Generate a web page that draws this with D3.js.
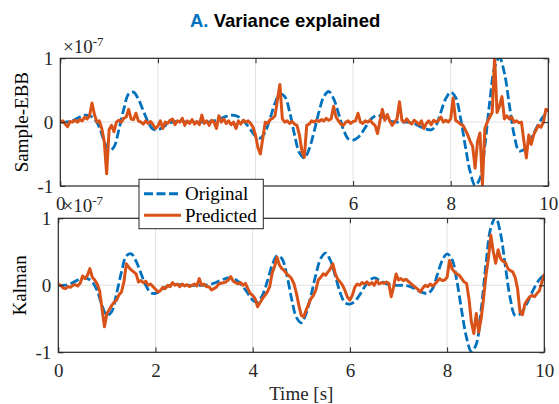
<!DOCTYPE html>
<html><head><meta charset="utf-8">
<script src="https://cdn.jsdelivr.net/npm/d3@7"></script>
<style>html,body{margin:0;padding:0;background:#fff;} svg{display:block;}</style>
</head><body>
<svg id="chart" width="559" height="404"></svg>
<script>
// Tick values and labels
const timeTicks = [0, 2, 4, 6, 8, 10];
const valueTicks = [-1, 0, 1];
const valueTickLabels = ["-1", "0", "1"];
const exponentLabel = "-7";

// Text
const titlePrefix = "A.";
const titleText = "Variance explained";
const xLabel = "Time [s]";
const panelNames = ["Sample-EBB", "Kalman"];
const seriesNames = ["Original", "Predicted"];

// Original signal (×1e-7), sampled every 0.1 s from 0 to 10 s
const originalStep = 0.1;
const original = [
  0, 0, 0.01, 0.04, 0.08, 0.11, 0.1, 0.05, -0.08, -0.3,
  -0.45, -0.39, -0.12, 0.2, 0.44, 0.47, 0.36, 0.18, 0.0, -0.11,
  -0.12, -0.08, -0.03, 0, 0.01, 0.01, 0, 0, 0, 0,
  0, 0.01, 0.03, 0.06, 0.09, 0.11, 0.1, 0.06, -0.02, -0.12,
  -0.22, -0.25, -0.15, 0.06, 0.3, 0.44, 0.4, 0.16, -0.2, -0.48,
  -0.56, -0.42, -0.15, 0.16, 0.4, 0.48, 0.37, 0.14, -0.11, -0.26,
  -0.28, -0.24, -0.145, -0.025, 0.07, 0.11, 0.08, 0.04, 0.01, 0,
  0, 0, -0.01, -0.04, -0.08, -0.11, -0.12, -0.05, 0.16, 0.37,
  0.47, 0.39, 0.07, -0.38, -0.78, -0.99, -0.88, -0.37, 0.32, 0.86,
  1.01, 0.77, 0.28, -0.2, -0.45, -0.43, -0.33, -0.18, -0.03, 0.09,
  0.16
];

// Predicted signals (×1e-7), sampled every 0.05 s from 0 to 10 s
const predictedStep = 0.05;
const predictedSampleEBB = [
  0.0, 0.02, -0.03, -0.07, 0.01, 0.0, 0.03, 0.0, 0.04, 0.02, 0.08, 0.05, 0.1, 0.3, 0.12, 0.0, 0.02, -0.1, -0.3, -0.81,
  -0.12, -0.05, -0.15, 0.0, 0.03, 0.0, 0.06, 0.08, 0.2, 0.05, 0.04, 0.14, 0.02, 0.0, -0.03, 0.02, -0.02, 0.01, -0.04, -0.1,
  -0.06, 0.02, -0.1, 0.0, -0.02, 0.03, 0.05, -0.04, 0.02, 0.0, 0.06, -0.05, 0.02, -0.02, 0.04, -0.03, 0.01, -0.04, 0.11, -0.02,
  0.02, -0.05, 0.03, 0.0, -0.1, 0.1, 0.0, 0.05, -0.02, 0.02, -0.04, 0.0, -0.1, 0.02, -0.03, 0.03, 0.0, 0.02, -0.02, -0.08,
  -0.2, -0.4, -0.5, -0.25, 0.0, -0.02, 0.04, 0.06, 0.1, 0.35, 0.59, 0.05, 0.0, 0.02, -0.02, 0.01, -0.03, -0.05, -0.2, -0.45,
  -0.55, -0.05, -0.03, 0.02, 0.0, 0.03, 0.01, 0.04, 0.02, 0.06, 0.03, 0.05, 0.25, 0.08, 0.02, -0.03, -0.05, 0.0, 0.02, -0.02,
  0.01, 0.02, 0.14, 0.0, -0.02, 0.02, 0.0, 0.03, -0.02, -0.05, -0.18, 0.02, 0.2, 0.03, 0.12, 0.02, -0.05, 0.0, 0.05, 0.32,
  0.03, 0.0, 0.05, 0.0, -0.03, 0.03, 0.0, -0.04, 0.02, -0.1, -0.02, 0.02, -0.04, 0.03, 0.0, 0.03, 0.08, 0.0, 0.03, 0.0,
  0.05, 0.38, 0.03, 0.0, -0.03, -0.05, -0.12, -0.2, -0.3, -0.38, -0.72, -0.3, -0.17, -0.98, -0.1, 0.0, 0.08, 0.15, 1.02, 0.15,
  0.25, 0.4, 0.05, 0.1, 0.05, 0.08, 0.0, 0.02, -0.01, 0.0, -0.3, -0.56, -0.2, -0.35, -0.2, -0.12, -0.05, -0.08, 0.0, 0.2,
  0.18
];
const predictedKalman = [
  0.02, 0.0, -0.04, -0.05, -0.02, -0.03, 0.0, 0.01, -0.01, 0.03, 0.14, 0.1, 0.15, 0.25, 0.12, 0.08, 0.02, -0.08, -0.35, -0.62,
  -0.42, -0.36, -0.3, -0.25, -0.22, -0.14, -0.1, 0.05, 0.32, 0.27, 0.23, 0.2, 0.17, 0.05, 0.07, 0.04, 0.06, 0.0, 0.02, -0.02,
  -0.06, -0.1, -0.08, -0.03, -0.05, 0.0, -0.02, 0.04, 0.0, 0.02, -0.02, 0.02, -0.01, 0.01, -0.02, 0.0, 0.02, -0.01, 0.1, 0.0,
  0.02, -0.02, -0.02, -0.07, -0.05, -0.03, 0.02, 0.03, 0.04, 0.05, 0.08, 0.13, 0.06, 0.04, 0.02, 0.04, 0.0, 0.03, -0.05, -0.12,
  -0.15, -0.2, -0.32, -0.26, -0.2, -0.15, -0.1, -0.02, 0.18, 0.28, 0.42, 0.3, 0.25, 0.22, 0.17, 0.14, 0.1, 0.02, -0.12, -0.3,
  -0.45, -0.47, -0.37, -0.28, -0.2, -0.15, -0.07, 0.08, 0.12, 0.17, 0.15, 0.2, 0.25, 0.32, 0.17, 0.09, 0.05, 0.0, -0.08, -0.18,
  -0.22, -0.15, -0.03, 0.02, 0.0, 0.04, 0.02, 0.05, 0.01, 0.04, 0.0, 0.07, 0.02, 0.04, 0.03, 0.05, 0.03, -0.17, -0.02, 0.17,
  0.08, 0.1, 0.07, 0.09, 0.06, 0.03, 0.0, -0.03, -0.06, -0.1, -0.04, 0.0, -0.02, 0.02, -0.01, 0.02, 0.06, 0.1, 0.07, 0.08,
  0.12, 0.37, 0.25, 0.2, 0.17, 0.15, 0.1, 0.05, 0.03, -0.2, -0.55, -0.72, -0.42, -0.7, -0.5, -0.2, 0.15, 0.4, 0.75, 0.5,
  0.33, 0.53, 0.4, 0.36, 0.34, 0.25, 0.22, 0.2, 0.12, -0.05, -0.4, -0.44, -0.28, -0.22, -0.17, -0.15, -0.17, -0.12, -0.08, 0.05,
  0.17
];

const SERIF = "'Liberation Serif','Times New Roman',serif";
const SANS = "'Liberation Sans',Arial,sans-serif";
const AXIS_COLOR = "#262626";
const GRID_COLOR = "#dfdfdf";
const BLUE = "#0072BD";
const ORANGE = "#D95319";
const DASH = "9,3.5";

const svg = d3.select("#chart");

const toPoints = (values, step) => values.map((v, i) => [i * step, v]);

const panels = [
  { name: panelNames[0], predicted: predictedSampleEBB,
    box: { left: 60.3, right: 548.3, top: 58.3, bottom: 186 }, expY: 53.3, expX: 63 },
  { name: panelNames[1], predicted: predictedKalman,
    box: { left: 58.3, right: 544.3, top: 218.3, bottom: 352.3 }, expY: 212, expX: 62.5 }
];

panels.forEach((p, idx) => {
  const b = p.box;
  const x = d3.scaleLinear().domain([0, 10]).range([b.left, b.right]);
  const y = d3.scaleLinear().domain([-1, 1]).range([b.bottom, b.top]);
  const g = svg.append("g");

  // grid
  g.append("g").selectAll("line.vg").data(timeTicks.filter(t => t > 0 && t < 10)).join("line")
    .attr("x1", d => x(d)).attr("x2", d => x(d)).attr("y1", b.top).attr("y2", b.bottom)
    .attr("stroke", GRID_COLOR).attr("stroke-width", 0.9);
  g.append("g").selectAll("line.hg").data(valueTicks.filter(v => v > -1 && v < 1)).join("line")
    .attr("y1", d => y(d)).attr("y2", d => y(d)).attr("x1", b.left).attr("x2", b.right)
    .attr("stroke", GRID_COLOR).attr("stroke-width", 0.9);

  // clip
  const clipId = "clip" + idx;
  svg.append("defs").append("clipPath").attr("id", clipId)
    .append("rect").attr("x", b.left).attr("y", b.top)
    .attr("width", b.right - b.left).attr("height", b.bottom - b.top);

  const smooth = d3.line().x(d => x(d[0])).y(d => y(d[1])).curve(d3.curveCatmullRom.alpha(0.5));
  const raw = d3.line().x(d => x(d[0])).y(d => y(d[1]));

  const lines = g.append("g").attr("clip-path", `url(#${clipId})`);
  lines.append("path").datum(toPoints(original, originalStep))
    .attr("d", smooth).attr("fill", "none").attr("stroke", BLUE)
    .attr("stroke-width", 2.8).attr("stroke-dasharray", DASH);
  lines.append("path").datum(toPoints(p.predicted, predictedStep))
    .attr("d", raw).attr("fill", "none").attr("stroke", ORANGE)
    .attr("stroke-width", 3).attr("stroke-linejoin", "round");

  // axes (ticks pointing inward)
  const styleAxis = sel => {
    sel.select(".domain").remove();
    sel.selectAll(".tick line").attr("stroke", AXIS_COLOR).attr("stroke-width", 1);
    sel.selectAll(".tick text").attr("fill", AXIS_COLOR)
      .style("font-family", SERIF).style("font-size", "19px");
  };
  g.append("g").attr("transform", `translate(0,${b.bottom})`)
    .call(d3.axisBottom(x).tickValues(timeTicks).tickSizeInner(-5).tickSizeOuter(0).tickPadding(11))
    .call(styleAxis);
  g.append("g").attr("transform", `translate(0,${b.top})`)
    .call(d3.axisTop(x).tickValues(timeTicks).tickSizeInner(-5).tickSizeOuter(0).tickFormat(""))
    .call(styleAxis);
  g.append("g").attr("transform", `translate(${b.left},0)`)
    .call(d3.axisLeft(y).tickValues(valueTicks).tickSizeInner(-5).tickSizeOuter(0).tickPadding(7)
      .tickFormat((d, i) => valueTickLabels[i]))
    .call(styleAxis);
  g.append("g").attr("transform", `translate(${b.right},0)`)
    .call(d3.axisRight(y).tickValues(valueTicks).tickSizeInner(-5).tickSizeOuter(0).tickFormat(""))
    .call(styleAxis);

  g.append("rect").attr("x", b.left).attr("y", b.top)
    .attr("width", b.right - b.left).attr("height", b.bottom - b.top)
    .attr("fill", "none").attr("stroke", AXIS_COLOR).attr("stroke-width", 1.2);

  // y label
  g.append("text")
    .attr("transform", `translate(${b.left - 32},${(b.top + b.bottom) / 2}) rotate(-90)`)
    .attr("text-anchor", "middle")
    .style("font-family", SERIF).style("font-size", "19px").attr("fill", "#000")
    .text(p.name);

  // exponent
  const ex = g.append("text").attr("x", p.expX).attr("y", p.expY)
    .style("font-family", SERIF).style("font-size", "19px").attr("fill", AXIS_COLOR);
  ex.append("tspan").text("\u00d710");
  ex.append("tspan").attr("dy", -7).style("font-size", "13px").text(exponentLabel);

  if (idx === 1) {
    g.append("text").attr("x", (b.left + b.right) / 2).attr("y", 400)
      .attr("text-anchor", "middle")
      .style("font-family", SERIF).style("font-size", "19px").attr("fill", AXIS_COLOR)
      .text(xLabel);
  }
});

// title
const title = svg.append("text").attr("x", 190).attr("y", 26.5)
  .style("font-family", SANS).style("font-size", "18.5px").style("font-weight", "bold");
title.append("tspan").attr("fill", BLUE).text(titlePrefix + " ");
title.append("tspan").attr("fill", "#000").text(titleText);

// legend
const leg = svg.append("g");
leg.append("rect").attr("x", 139).attr("y", 179.3).attr("width", 124.3).attr("height", 49.4)
  .attr("fill", "#fff").attr("stroke", AXIS_COLOR).attr("stroke-width", 1);
const legendRows = [
  { name: seriesNames[0], color: BLUE, dash: DASH, y: 193.7 },
  { name: seriesNames[1], color: ORANGE, dash: null, y: 215.3 }
];
legendRows.forEach(r => {
  leg.append("line").attr("x1", 144).attr("x2", 181).attr("y1", r.y).attr("y2", r.y)
    .attr("stroke", r.color).attr("stroke-width", 3)
    .attr("stroke-dasharray", r.dash);
  leg.append("text").attr("x", 185).attr("y", r.y).attr("dy", "0.33em")
    .style("font-family", SERIF).style("font-size", "19px").attr("fill", "#000")
    .text(r.name);
});
</script>
</body></html>
